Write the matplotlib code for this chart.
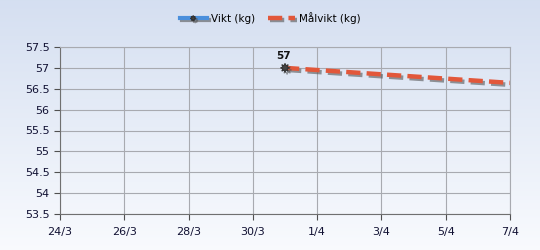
import datetime as dt
import numpy as np
import matplotlib
matplotlib.use("Agg")
import matplotlib.pyplot as plt
import matplotlib.dates as mdates
import matplotlib.patheffects as pe
from matplotlib.ticker import FuncFormatter, MultipleLocator

# weight log
vikt_dates = [dt.date(2015, 3, 31)]
vikt_values = [57.0]

# target weight line
malvikt_dates = [dt.date(2015, 3, 31), dt.date(2015, 4, 7)]
malvikt_values = [57.0, 56.64]

x_start = dt.date(2015, 3, 24)
x_end = dt.date(2015, 4, 7)

fig = plt.figure(figsize=(5.4, 2.5), dpi=100)

# gradient background for whole figure
bg = fig.add_axes([0, 0, 1, 1], zorder=-10)
grad = np.linspace(0, 1, 256).reshape(-1, 1)
top = np.array([0.835, 0.875, 0.945])
bottom = np.array([0.975, 0.982, 0.995])
img = top + (bottom - top) * grad[:, :, None]
bg.imshow(img, aspect="auto", extent=[0, 1, 0, 1])
bg.axis("off")

ax = fig.add_axes([60 / 540, 1 - 214 / 250, 450 / 540, 167 / 250])
ax.patch.set_alpha(0)

shadow = [pe.SimpleLineShadow(offset=(1.5, -1.5), shadow_color="#555555", alpha=0.6), pe.Normal()]

ax.plot(malvikt_dates, malvikt_values, color="#e2573a", lw=3.2, ls=(0, (3.2, 1.4)),
        path_effects=shadow, label="Målvikt (kg)", zorder=3)
ax.plot(vikt_dates, vikt_values, color="#4a8fdc", lw=3, marker=(8, 1, 0), ms=6.5,
        mfc="#444444", mec="#333333", mew=0.8, path_effects=shadow, label="Vikt (kg)", zorder=4)
for d, v in zip(vikt_dates, vikt_values):
    ax.annotate(f"{v:g}", (mdates.date2num(d), v), xytext=(-1, 5), textcoords="offset points",
                ha="center", va="bottom", fontsize=7.5, fontweight="semibold", color="#111111")

ax.set_xlim(mdates.date2num(x_start), mdates.date2num(x_end))
ax.set_ylim(53.5, 57.5)
ax.yaxis.set_major_locator(MultipleLocator(0.5))
ax.yaxis.set_major_formatter(FuncFormatter(lambda v, p: f"{v:g}"))
ax.xaxis.set_major_locator(mdates.DayLocator(interval=2))
ax.xaxis.set_major_formatter(FuncFormatter(
    lambda v, p: f"{mdates.num2date(v).day}/{mdates.num2date(v).month}"))

ax.grid(True, color="#a8aab0", lw=0.8)
ax.set_axisbelow(True)
for s in ["top", "right"]:
    ax.spines[s].set_color("#a8aab0")
for s in ["left", "bottom"]:
    ax.spines[s].set_color("#707070")
ax.tick_params(axis="both", direction="out", length=4, color="#505050",
               labelsize=8, labelcolor="#111133")
ax.tick_params(axis="x", pad=5)

h, l = ax.get_legend_handles_labels()
fig.legend(h[::-1], l[::-1], loc="center", bbox_to_anchor=(0.5, 1 - 18 / 250), ncol=2,
           frameon=False, fontsize=7.5, handlelength=2.6, columnspacing=1.2, handletextpad=0.4,
           markerscale=0.6)

fig.savefig("out.png", dpi=100)
